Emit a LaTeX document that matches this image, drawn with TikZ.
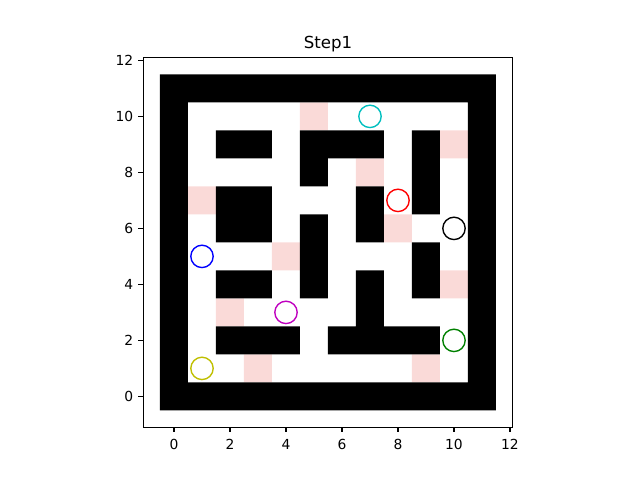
\documentclass[tikz,border=0pt]{standalone}
\usepackage{fontspec}
\setmainfont{DejaVu Sans}
\usetikzlibrary{calc}

\definecolor{visitpink}{RGB}{250,218,216}
\definecolor{mplcyan}{rgb}{0,0.75,0.75}
\definecolor{mplmagenta}{rgb}{0.75,0,0.75}
\definecolor{mplgreen}{rgb}{0,0.5,0}
\definecolor{mplyellow}{rgb}{0.75,0.75,0}

\tikzset{
    wall/.style={fill=black},
    visited/.style={fill=visitpink},
    agent/.style={draw, line width=0.98pt},
    axisline/.style={line width=0.79pt},
    ticklabel/.style={font=\fontsize{9.85}{12}\selectfont, inner sep=0pt}
}

\begin{document}
\begin{tikzpicture}[x=0.7cm, y=0.7cm]
    \useasboundingbox (-6.214,-2.986) rectangle (16.643,14.157);

    % besuchte Felder
    \fill[visited] \foreach \x/\y in {5/10,10/9,7/8,1/7,8/6,4/5,10/4,2/3,3/1,9/1}
        {(\x-0.5,\y-0.5) rectangle ++(1,1)};

    % Aussenmauer
    \fill[wall, even odd rule] (-0.5,-0.5) rectangle (11.5,11.5)
        (0.5,0.5) rectangle (10.5,10.5);

    % innere Mauern, Feld fuer Feld
    \fill[wall] \foreach \x/\y in {2/9,3/9,5/9,6/9,7/9,9/9,
                                  5/8,9/8,
                                  2/7,3/7,7/7,9/7,
                                  2/6,3/6,5/6,7/6,
                                  5/5,9/5,
                                  2/4,3/4,5/4,7/4,9/4,
                                  7/3,
                                  2/2,3/2,4/2,6/2,7/2,8/2,9/2}
        {(\x-0.5,\y-0.5) rectangle ++(1,1)};

    % Agenten
    \foreach \x/\y/\c in {7/10/mplcyan, 8/7/red, 10/6/black, 1/5/blue,
                          4/3/mplmagenta, 10/2/mplgreen, 1/1/mplyellow}
        \draw[agent, \c] (\x,\y) circle (0.4);

    % Achsen
    \draw[axisline] (-1.1,-1.1) rectangle (12.1,12.1);
    \foreach \t in {0,2,...,12} {
        \draw[axisline] (\t,-1.1) -- ++(0,-0.174);
        \draw[axisline] (-1.1,\t) -- ++(-0.174,0);
        \node[ticklabel, anchor=north] (xlab\t) at (\t,-1.53) {\t};
        \node[ticklabel, anchor=east] (ylab\t) at (-1.446,\t) {\t};
    }

    \node[font=\fontsize{11.8}{14}\selectfont, inner sep=0pt, anchor=base] (title) at (5.5,12.42) {Step1};
\end{tikzpicture}
\end{document}
